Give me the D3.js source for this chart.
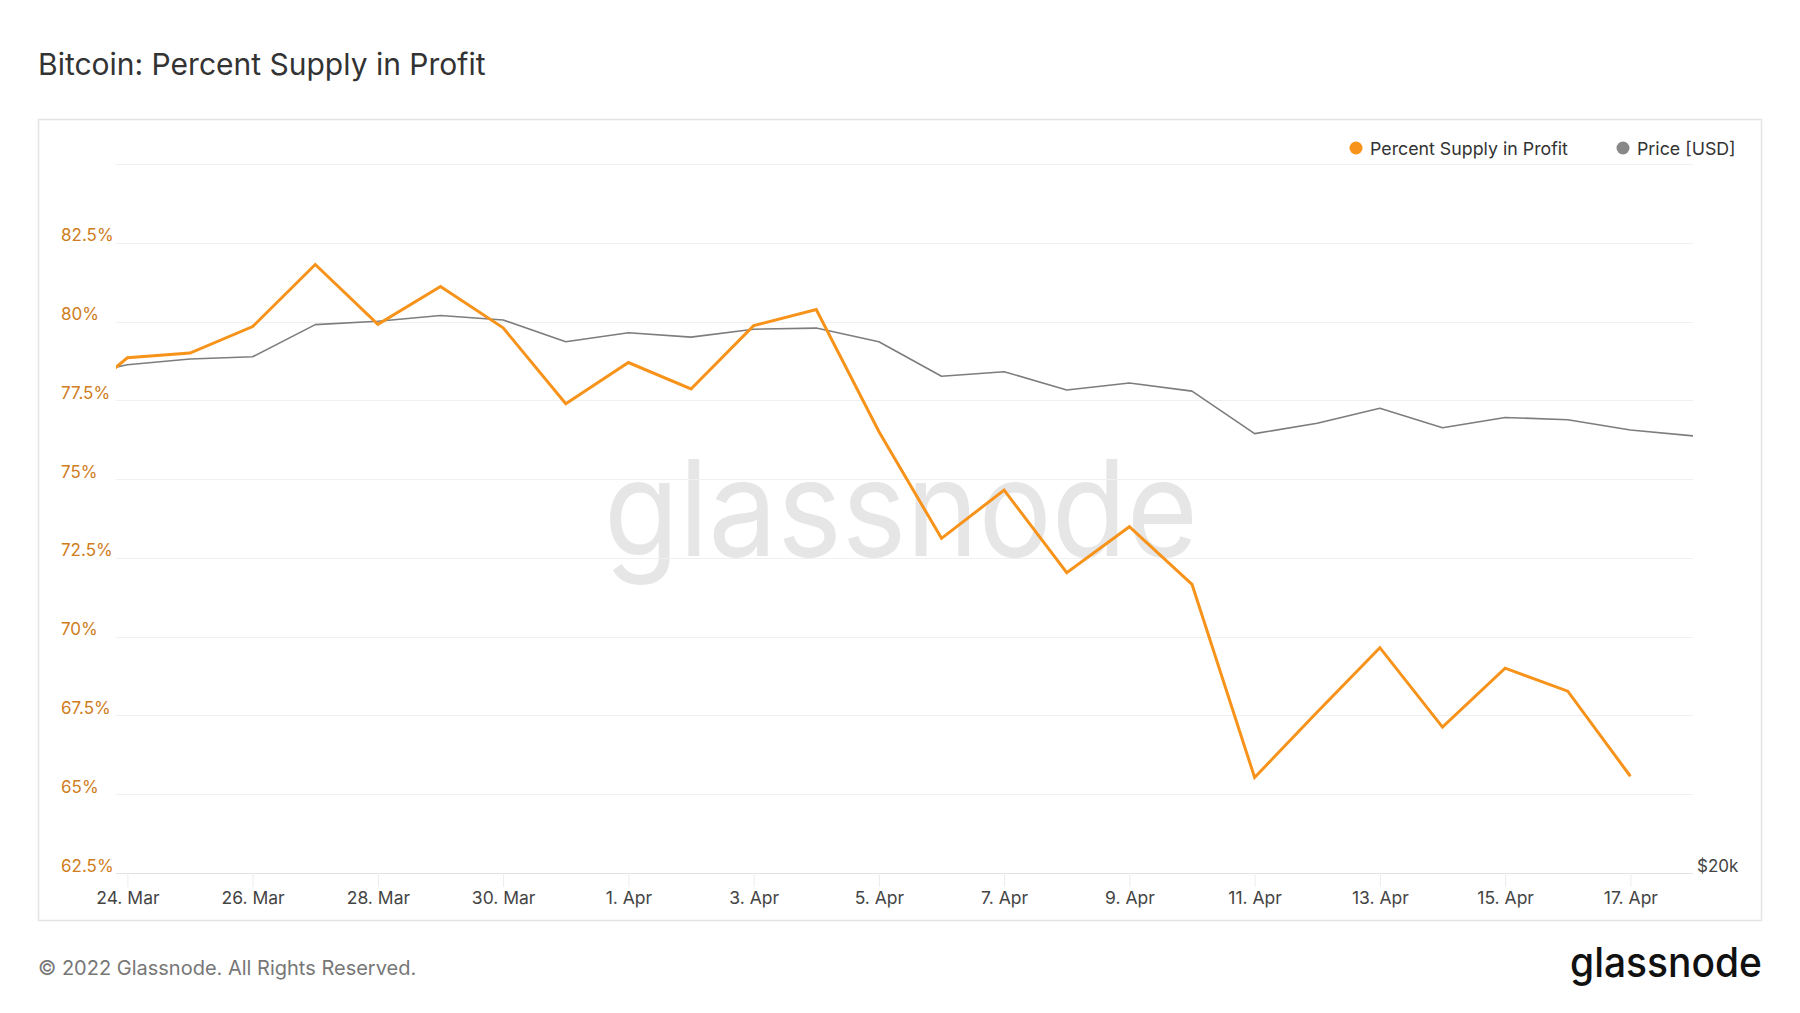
<!DOCTYPE html>
<html>
<head>
<meta charset="utf-8">
<script src="https://cdn.jsdelivr.net/npm/d3@7"></script>
<style>
  html, body { margin: 0; padding: 0; background: #ffffff; }
  svg { display: block; font-family: Inter, "Noto Sans", sans-serif; }
</style>
</head>
<body>
<svg id="chart" width="1800" height="1013"></svg>
<script>
// ---- data ----
const dates = ["2022-03-23","2022-03-24","2022-03-25","2022-03-26","2022-03-27","2022-03-28","2022-03-29",
  "2022-03-30","2022-03-31","2022-04-01","2022-04-02","2022-04-03","2022-04-04","2022-04-05","2022-04-06",
  "2022-04-07","2022-04-08","2022-04-09","2022-04-10","2022-04-11","2022-04-12","2022-04-13","2022-04-14",
  "2022-04-15","2022-04-16","2022-04-17","2022-04-18"];
const percentSupplyInProfit = [77.2, 78.85, 79.0, 79.84, 81.81, 79.91, 81.11, 79.80, 77.39, 78.70, 77.86,
  79.87, 80.38, 76.51, 73.12, 74.65, 72.03, 73.49, 71.66, 65.53, 67.61, 69.65, 67.13, 69.0, 68.27, 65.57];
const priceUSD = [43100, 43960, 44350, 44510, 46780, 47030, 47450, 47120, 45550, 46200, 45880, 46450, 46530,
  45550, 43180, 43490, 42270, 42730, 42200, 39510, 40150, 41090, 39870, 40510, 40370, 39730, 39370];
const percentTicks = [62.5, 65, 67.5, 70, 72.5, 75, 77.5, 80, 82.5, 85];
const percentTickLabels = ["62.5%", "65%", "67.5%", "70%", "72.5%", "75%", "77.5%", "80%", "82.5%", ""];
const xTickDates = ["2022-03-24","2022-03-26","2022-03-28","2022-03-30","2022-04-01","2022-04-03","2022-04-05",
  "2022-04-07","2022-04-09","2022-04-11","2022-04-13","2022-04-15","2022-04-17"];
const priceTicks = [20000];
const priceTickLabels = ["$20k"];
const seriesNames = ["Percent Supply in Profit", "Price [USD]"];

// ---- layout ----
const svg = d3.select("#chart");
const plot = { left: 116, right: 1693, top: 164, bottom: 873 };
const orange = "#f7931a", grayLine = "#7d7d7d";

const parse = d3.utcParse("%Y-%m-%d");
const t = dates.map(parse);
const x = d3.scaleUtc()
  .domain([new Date(parse("2022-03-24").getTime() - 0.182 * 864e5), parse("2022-04-18")])
  .range([plot.left, plot.right]);
const y = d3.scaleLinear().domain([62.5, 85]).range([plot.bottom, plot.top]);
const yPrice = d3.scaleLog().domain([20000, 60000]).range([plot.bottom, plot.top]);

// title
svg.append("text").attr("x", 38).attr("y", 75)
  .attr("font-size", 30).attr("fill", "#333").text("Bitcoin: Percent Supply in Profit");

// chart box
svg.append("rect").attr("x", 38.5).attr("y", 119.5).attr("width", 1723).attr("height", 801)
  .attr("fill", "#fff").attr("stroke", "#e4e4e4").attr("stroke-width", 1.5);

// watermark
svg.append("text").attr("x", 604).attr("y", 556).attr("font-size", 134)
  .attr("fill", "#e6e6e6").attr("textLength", 594).attr("lengthAdjust", "spacingAndGlyphs")
  .text("glassnode");

// gridlines
svg.append("g").selectAll("line").data(percentTicks).join("line")
  .attr("x1", plot.left).attr("x2", plot.right)
  .attr("y1", d => Math.round(y(d)) + 0.5).attr("y2", d => Math.round(y(d)) + 0.5)
  .attr("stroke", (d, i) => i === 0 ? "#e2e2e2" : "#f0f0f0").attr("stroke-width", 1.2);

// y labels (left)
svg.append("g").selectAll("text").data(percentTicks).join("text")
  .attr("x", 61).attr("y", d => y(d) - 1.5)
  .attr("font-size", 17).attr("fill", "#cf7d20")
  .text((d, i) => percentTickLabels[i]);

// price label (right)
svg.append("g").selectAll("text").data(priceTicks).join("text")
  .attr("x", 1697).attr("y", d => yPrice(d) - 1)
  .attr("font-size", 17).attr("fill", "#444")
  .text((d, i) => priceTickLabels[i]);

// x axis
const xAxis = d3.axisBottom(x)
  .tickValues(xTickDates.map(parse))
  .tickFormat(d3.utcFormat("%-d. %b"))
  .tickSize(14).tickPadding(5);
const gx = svg.append("g").attr("transform", `translate(0,${plot.bottom})`).call(xAxis);
gx.select(".domain").remove();
gx.selectAll(".tick line").attr("stroke", "#ececec");
gx.selectAll(".tick text").attr("font-size", 17.5).attr("fill", "#444")
  .attr("font-family", "Inter, 'Noto Sans', sans-serif");

// clip
svg.append("clipPath").attr("id", "clip").append("rect")
  .attr("x", plot.left).attr("y", plot.top - 10).attr("width", plot.right - plot.left)
  .attr("height", plot.bottom - plot.top + 20);

const priceData = t.map((d, i) => ({ d, v: priceUSD[i] }));
const pctData = percentSupplyInProfit.map((v, i) => ({ d: t[i], v }));

svg.append("path").datum(priceData).attr("clip-path", "url(#clip)")
  .attr("fill", "none").attr("stroke", grayLine).attr("stroke-width", 1.6)
  .attr("stroke-linejoin", "round")
  .attr("d", d3.line().x(p => x(p.d)).y(p => yPrice(p.v)));

svg.append("path").datum(pctData).attr("clip-path", "url(#clip)")
  .attr("fill", "none").attr("stroke", orange).attr("stroke-width", 3)
  .attr("stroke-linejoin", "miter")
  .attr("d", d3.line().x(p => x(p.d)).y(p => y(p.v)));

// legend
const legend = svg.append("g");
const legendItems = [
  { name: seriesNames[0], color: orange, cx: 1356, tx: 1370 },
  { name: seriesNames[1], color: "#888888", cx: 1623, tx: 1637 }
];
legend.selectAll("circle").data(legendItems).join("circle")
  .attr("cx", d => d.cx).attr("cy", 148).attr("r", 6.5).attr("fill", d => d.color);
legend.selectAll("text").data(legendItems).join("text")
  .attr("x", d => d.tx).attr("y", 154.5).attr("font-size", 17.8).attr("fill", "#333")
  .text(d => d.name);

// footer
svg.append("text").attr("x", 38).attr("y", 975).attr("font-size", 20).attr("fill", "#777")
  .text("© 2022 Glassnode. All Rights Reserved.");
svg.append("text").attr("x", 1570).attr("y", 977).attr("font-size", 41).attr("fill", "#111")
  .attr("font-weight", 500).attr("textLength", 192).attr("lengthAdjust", "spacingAndGlyphs")
  .text("glassnode");
</script>
</body>
</html>
